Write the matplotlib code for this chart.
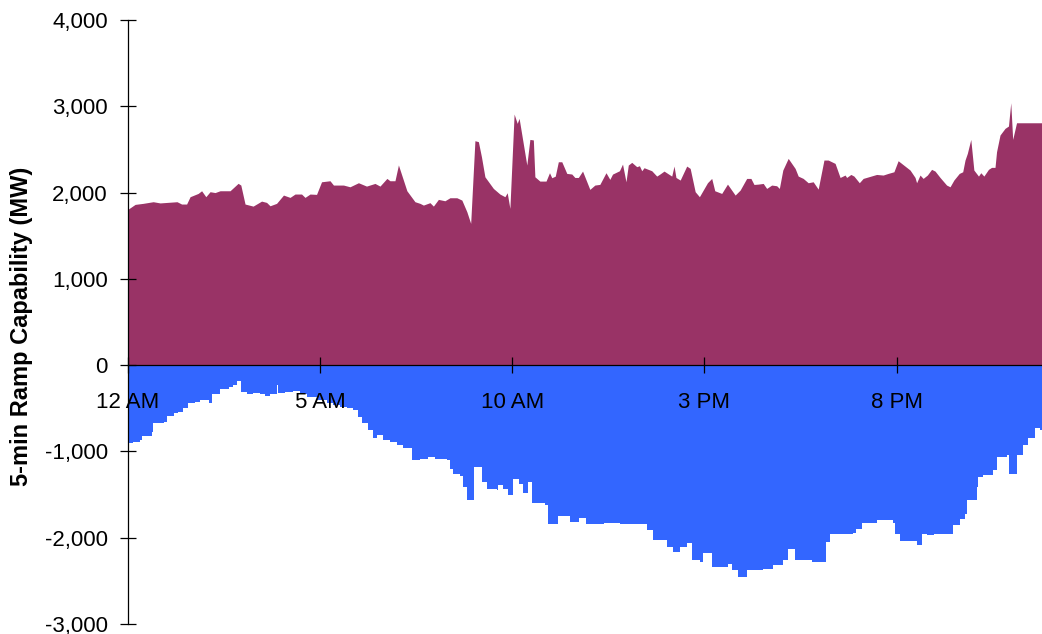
import matplotlib
matplotlib.use("Agg")
import matplotlib.pyplot as plt
from matplotlib.ticker import FuncFormatter

plt.rcParams['font.family'] = ['Liberation Sans', 'DejaVu Sans']

# ---- data (hours after midnight, MW) ----
up_hours = [0.00, 0.19, 0.40, 0.66, 0.84, 1.28, 1.40, 1.53, 1.62, 1.83, 1.92, 2.03, 2.14, 2.27,
            2.40, 2.66, 2.87, 2.94, 3.05, 3.26, 3.48, 3.61, 3.70, 3.87, 4.05, 4.22, 4.35, 4.52,
            4.61, 4.74, 4.91, 5.04, 5.26, 5.35, 5.61, 5.78, 6.00, 6.21, 6.43, 6.56, 6.74, 6.82,
            6.95, 7.04, 7.26, 7.47, 7.60, 7.69, 7.86, 7.95, 8.08, 8.25, 8.38, 8.56, 8.69, 8.82,
            8.92, 9.03, 9.12, 9.20, 9.29, 9.51, 9.68, 9.81, 9.87, 9.94, 10.05, 10.13, 10.18,
            10.38, 10.46, 10.55, 10.59, 10.72, 10.88, 10.97, 11.03, 11.12, 11.20, 11.29, 11.42,
            11.55, 11.63, 11.72, 11.83, 12.02, 12.15, 12.28, 12.44, 12.54, 12.61, 12.79, 12.87,
            12.96, 13.02, 13.11, 13.24, 13.31, 13.37, 13.43, 13.63, 13.76, 13.84, 13.95, 14.15,
            14.21, 14.26, 14.37, 14.54, 14.63, 14.76, 14.87, 15.08, 15.19, 15.27, 15.45, 15.60,
            15.80, 15.93, 16.10, 16.21, 16.29, 16.40, 16.53, 16.62, 16.75, 16.88, 16.95, 17.04,
            17.18, 17.36, 17.44, 17.57, 17.70, 17.83, 17.96, 18.11, 18.22, 18.40, 18.53, 18.66,
            18.70, 18.81, 18.89, 19.03, 19.13, 19.48, 19.65, 19.78, 19.93, 20.04, 20.35, 20.48,
            20.52, 20.61, 20.69, 20.80, 20.91, 21.00, 21.13, 21.30, 21.39, 21.49, 21.63, 21.72,
            21.78, 21.84, 21.93, 22.01, 22.13, 22.19, 22.27, 22.39, 22.47, 22.56, 22.60, 22.69,
            22.82, 22.91, 22.97, 23.02, 23.12, 24.00]
up_values = [1805, 1863, 1875, 1894, 1880, 1894, 1867, 1867, 1952, 1990, 2021, 1952, 2010, 2000,
             2021, 2021, 2107, 2087, 1867, 1843, 1901, 1886, 1847, 1875, 1971, 1944, 1983, 1983,
             1944, 1983, 1979, 2125, 2137, 2087, 2087, 2067, 2114, 2075, 2106, 2075, 2164, 2137,
             2137, 2320, 2021, 1894, 1875, 1855, 1883, 1843, 1921, 1905, 1940, 1940, 1913, 1778,
             1643, 2601, 2590, 2415, 2183, 2048, 1983, 1952, 1998, 1817, 2910, 2802, 2860,
             2319, 2616, 2610, 2183, 2133, 2133, 2230, 2172, 2190, 2357, 2357, 2222,
             2215, 2175, 2175, 2249, 2037, 2087, 2095, 2230, 2153, 2214, 2253, 2330,
             2125, 2319, 2350, 2300, 2311, 2253, 2288, 2253, 2191, 2214, 2249, 2191,
             2307, 2175, 2145, 2307, 2280, 2010, 1952, 2114, 2164, 2021, 1990, 2098,
             1971, 2029, 2164, 2164, 2094, 2098, 2106, 2048, 2087, 2079, 2048, 2261,
             2396, 2280, 2191, 2164, 2114, 2125, 2040, 2377, 2377, 2338, 2175, 2203,
             2175, 2210, 2191, 2114, 2164, 2210, 2203, 2222, 2241, 2369, 2261, 2175,
             2114, 2203, 2164, 2203, 2269, 2249, 2175, 2087, 2067, 2145, 2222, 2241,
             2377, 2454, 2616, 2261, 2191, 2230, 2191, 2269, 2292, 2292, 2473, 2667,
             2744, 2771, 3041, 2616, 2809, 2809]

down_hours = [0.00, 0.14, 0.32, 0.36, 0.62, 0.66, 0.95, 1.01, 1.20, 1.31, 1.44, 1.57, 1.75, 1.88,
              2.12, 2.18, 2.40, 2.62, 2.74, 2.85, 2.94, 3.10, 3.27, 3.45, 3.57, 3.70, 3.85, 3.87,
              3.90, 4.10, 4.31, 4.48, 4.65, 4.91, 5.17, 5.35, 5.52, 5.70, 5.87, 6.00, 6.08, 6.26,
              6.39, 6.47, 6.65, 6.82, 7.00, 7.17, 7.39, 7.60, 7.80, 8.00, 8.30, 8.38, 8.47, 8.64,
              8.73, 8.82, 8.95, 9.01, 9.15, 9.21, 9.34, 9.60, 9.64, 9.75, 9.90, 10.01, 10.18,
              10.29, 10.40, 10.51, 10.85, 10.94, 11.15, 11.20, 11.50, 11.75, 11.93, 12.20, 12.40,
              12.80, 13.32, 13.50, 13.67, 13.93, 14.02, 14.19, 14.36, 14.54, 14.67, 14.89, 14.97,
              15.19, 15.40, 15.62, 15.71, 15.88, 15.93, 16.10, 16.53, 16.79, 17.05, 17.18, 17.36,
              17.80, 18.09, 18.16, 18.27, 18.87, 18.94, 19.09, 19.48, 19.91, 19.96, 20.09, 20.43,
              20.52, 20.65, 20.78, 20.96, 21.35, 21.48, 21.65, 21.78, 21.82, 21.95, 22.08, 22.12,
              22.26, 22.52, 22.60, 22.86, 22.93, 23.07, 23.12, 23.30, 23.43, 23.60, 23.73, 24.00]
down_values = [-901, -890, -870, -823, -773, -669, -657, -591, -560, -541, -502, -444, -425, -406,
               -437, -329, -271, -252, -232, -182, -309, -329, -321, -340, -359, -329, -329, -232,
               -321, -309, -298, -329, -367, -406, -444, -463, -483, -502, -522, -599, -676, -754,
               -850, -812, -870, -889, -928, -966, -1094, -1082, -1070, -1082, -1094, -1198, -1256, -1287,
               -1411, -1558, -1558, -1186, -1186, -1353, -1430, -1450, -1392, -1430, -1507, -1314, -1372,
               -1480, -1353, -1596, -1623, -1843, -1843, -1751, -1816, -1766, -1836, -1836, -1828,
               -1843, -1843, -1913, -2029, -2029, -2106, -2164, -2106, -2060, -2261, -2280, -2176,
               -2338, -2338, -2300, -2377, -2454, -2454, -2377, -2357, -2319, -2261, -2125, -2261,
               -2280, -2280, -2048, -1952, -1944, -1894, -1828, -1797, -1828, -1952, -2040, -2040,
               -2087, -1952, -1970, -1952, -1952, -1855, -1778, -1720, -1565, -1565, -1411, -1295,
               -1275, -1217, -1063, -1044, -1256, -1256, -1044, -928, -850, -734, -753, -753]

tick_hours = [0, 5, 10, 15, 20]
tick_labels = ["12 AM", "5 AM", "10 AM", "3 PM", "8 PM"]
y_ticks = [-3000, -2000, -1000, 0, 1000, 2000, 3000, 4000]

UP_COLOR = "#993366"
DOWN_COLOR = "#3366FF"

W, H = 1042, 634
fig = plt.figure(figsize=(W / 100, H / 100), dpi=100)
x0 = 127.8
ax = fig.add_axes([x0 / W, 10 / H, 1 - x0 / W, 604 / H])

ax.fill_between(up_hours, 0, up_values, color=UP_COLOR, linewidth=0, zorder=1)
ax.fill_between(down_hours, 0, down_values, color=DOWN_COLOR, linewidth=0, zorder=1,
                step="post")

ax.set_xlim(0, (W - x0) / 38.44)
ax.set_ylim(-3000, 4000)

for s in ("top", "right"):
    ax.spines[s].set_visible(False)
ax.spines["bottom"].set_position(("data", 0))
ax.spines["left"].set_linewidth(0.9)
ax.spines["bottom"].set_linewidth(0.9)
ax.spines["left"].set_zorder(5)
ax.spines["bottom"].set_zorder(5)

ax.set_yticks(y_ticks)
ax.yaxis.set_major_formatter(FuncFormatter(lambda v, p: f"{int(v):,}"))
ax.set_xticks(tick_hours)
ax.set_xticklabels(tick_labels)

ax.tick_params(axis="y", direction="inout", length=11, width=0.9, labelsize=16, pad=9)
ax.tick_params(axis="x", direction="inout", length=11, width=0.9, labelsize=16, pad=13.5)

fig.text(22 / W, 1 - 326 / H, "5-min Ramp Capability (MW)", rotation=90,
         ha="center", va="center", fontsize=17, fontweight="bold")

fig.savefig("out.png", dpi=100)
